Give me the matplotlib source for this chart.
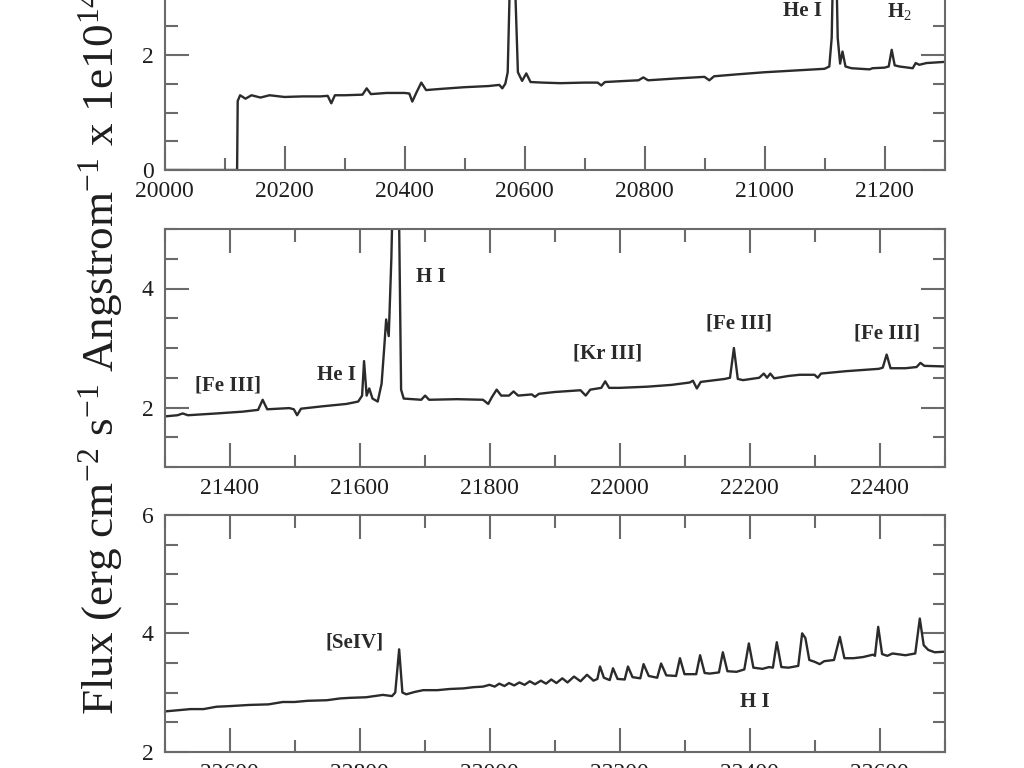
import matplotlib
matplotlib.use("Agg")
import matplotlib.pyplot as plt
from matplotlib.ticker import MultipleLocator

plt.rcParams['font.family'] = ['Liberation Serif', 'DejaVu Serif']
plt.rcParams['mathtext.fontset'] = 'custom'
plt.rcParams['mathtext.rm'] = 'Liberation Serif'
plt.rcParams['mathtext.it'] = 'Liberation Serif:italic'
plt.rcParams['mathtext.bf'] = 'Liberation Serif:bold'

# ---------------- data ----------------
top_wl = [20000, 20121, 20122, 20126, 20135, 20145, 20160, 20175, 20200, 20230,
          20260, 20272, 20278, 20284, 20300, 20330, 20337, 20344, 20370, 20400,
          20408, 20413, 20420, 20428, 20436, 20460, 20500, 20540, 20558, 20563,
          20568, 20572, 20575, 20580, 20585, 20589, 20596, 20603, 20610, 20630,
          20660, 20700, 20722, 20728, 20734, 20770, 20790, 20798, 20806, 20850,
          20900, 20908, 20916, 20950, 21000, 21050, 21100, 21108, 21112, 21117,
          21122, 21126, 21130, 21135, 21145, 21175, 21180, 21200, 21207, 21212,
          21217, 21225, 21247, 21252, 21258, 21270, 21300]
top_flux = [0.0, 0.0, 1.20, 1.30, 1.24, 1.30, 1.26, 1.30, 1.27, 1.28,
            1.28, 1.29, 1.16, 1.30, 1.30, 1.31, 1.42, 1.32, 1.34, 1.34,
            1.33, 1.19, 1.35, 1.52, 1.39, 1.41, 1.44, 1.46, 1.48, 1.42,
            1.50, 1.70, 3.00, 5.00, 3.00, 1.70, 1.55, 1.68, 1.53, 1.52,
            1.51, 1.52, 1.52, 1.47, 1.53, 1.55, 1.56, 1.61, 1.56, 1.59,
            1.62, 1.56, 1.63, 1.66, 1.70, 1.73, 1.76, 1.80, 2.30, 5.00,
            2.30, 1.85, 2.06, 1.80, 1.77, 1.75, 1.77, 1.78, 1.80, 2.09,
            1.82, 1.80, 1.77, 1.86, 1.83, 1.86, 1.88]

mid_wl = [21300, 21320, 21328, 21336, 21380, 21420, 21444, 21451, 21458, 21492,
          21499, 21504, 21510, 21543, 21580, 21598, 21604, 21607, 21611, 21615,
          21620, 21628, 21634, 21638, 21641, 21645, 21649, 21652, 21660, 21664,
          21668, 21695, 21701, 21707, 21750, 21790, 21798, 21804, 21811, 21818,
          21830, 21837, 21844, 21865, 21870, 21876, 21900, 21940, 21948, 21955,
          21972, 21978, 21984, 22000, 22043, 22080, 22108, 22113, 22119, 22125,
          22162, 22170, 22176, 22182, 22190, 22215, 22222, 22227, 22232, 22238,
          22260, 22277, 22300, 22305, 22310, 22348, 22399, 22405, 22411, 22417,
          22440, 22457, 22463, 22469, 22500]
mid_flux = [1.85, 1.87, 1.90, 1.87, 1.90, 1.93, 1.96, 2.13, 1.97, 1.99,
            1.97, 1.87, 1.98, 2.02, 2.06, 2.10, 2.20, 2.78, 2.20, 2.32,
            2.15, 2.10, 2.40, 3.00, 3.48, 3.20, 4.50, 6.00, 6.00, 2.30,
            2.15, 2.13, 2.20, 2.13, 2.14, 2.13, 2.06, 2.18, 2.30, 2.20,
            2.20, 2.27, 2.20, 2.22, 2.18, 2.23, 2.26, 2.29, 2.20, 2.30,
            2.33, 2.44, 2.33, 2.33, 2.35, 2.38, 2.42, 2.45, 2.32, 2.43,
            2.48, 2.50, 3.00, 2.48, 2.46, 2.50, 2.57, 2.50, 2.57, 2.49,
            2.53, 2.55, 2.55, 2.50, 2.57, 2.61, 2.65, 2.67, 2.89, 2.66,
            2.66, 2.68, 2.75, 2.70, 2.69]

bot_wl = [22500, 22520, 22540, 22560, 22580, 22600, 22630, 22660, 22682, 22700,
          22720, 22750, 22770, 22785, 22810, 22836, 22850, 22855, 22861, 22866,
          22872, 22885, 22898, 22920, 22939, 22960, 22975, 22990, 23000, 23008,
          23015, 23023, 23030, 23038, 23046, 23054, 23062, 23070, 23079, 23087,
          23095, 23103, 23112, 23120, 23130, 23140, 23150, 23160, 23166, 23170,
          23176, 23185, 23190, 23197, 23208, 23213, 23220, 23232, 23237, 23245,
          23258, 23264, 23272, 23287, 23293, 23300, 23318, 23324, 23331, 23339,
          23353, 23359, 23366, 23380, 23392, 23399, 23406, 23420, 23430, 23436,
          23442, 23449, 23460, 23475, 23481, 23486, 23492, 23500, 23508, 23515,
          23530, 23539, 23546, 23560, 23575, 23590, 23593, 23598, 23604, 23612,
          23620, 23640, 23655, 23662, 23668, 23675, 23685, 23700]
bot_flux = [2.68, 2.70, 2.72, 2.72, 2.76, 2.77, 2.79, 2.80, 2.84, 2.84,
            2.86, 2.87, 2.90, 2.91, 2.92, 2.96, 2.94, 3.00, 3.73, 3.00,
            2.97, 3.01, 3.04, 3.04, 3.06, 3.07, 3.09, 3.10, 3.13, 3.10,
            3.15, 3.11, 3.16, 3.12, 3.17, 3.13, 3.19, 3.14, 3.20, 3.15,
            3.22, 3.16, 3.24, 3.17, 3.27, 3.19, 3.30, 3.20, 3.23, 3.44,
            3.25, 3.21, 3.41, 3.23, 3.22, 3.44, 3.26, 3.24, 3.48, 3.28,
            3.25, 3.49, 3.29, 3.28, 3.58, 3.31, 3.31, 3.63, 3.33, 3.32,
            3.34, 3.68, 3.36, 3.35, 3.39, 3.83, 3.42, 3.40, 3.43, 3.42,
            3.85, 3.43, 3.42, 3.45, 4.00, 3.92, 3.55, 3.52, 3.48, 3.53,
            3.55, 3.94, 3.58, 3.58, 3.60, 3.64, 3.62, 4.11, 3.65, 3.62,
            3.66, 3.63, 3.66, 4.25, 3.80, 3.72, 3.68, 3.69]

top_labels = [("He I", 21063, 2.77), ("H$_2$", 21225, 2.75)]
mid_labels = [("[Fe III]", 21398, 2.37), ("He I", 21565, 2.55), ("H I", 21710, 4.20),
              ("[Kr III]", 21981, 2.90), ("[Fe III]", 22184, 3.41), ("[Fe III]", 22412, 3.24)]
bot_labels = [("[SeIV]", 22792, 3.84), ("H I", 23408, 2.84)]

panels = [
    (top_wl, top_flux, (20000, 21300), (0, 4), top_labels),
    (mid_wl, mid_flux, (21300, 22500), (1, 5), mid_labels),
    (bot_wl, bot_flux, (22500, 23700), (2, 6), bot_labels),
]

# ---------------- layout ----------------
W, H = 1024, 768
fig = plt.figure(figsize=(W / 100, H / 100), dpi=100)
rects_px = [(164.5, -60, 780, 230), (164.5, 229, 780, 238), (164.5, 515, 780, 236.7)]

spine_col = '#6a6a6a'
line_col = '#2b2b2b'

for (wl, fl, xl, yl, labels), (lx, ty, w, h) in zip(panels, rects_px):
    ax = fig.add_axes([lx / W, 1 - (ty + h) / H, w / W, h / H])
    ax.plot(wl, fl, color=line_col, lw=1.7, solid_joinstyle='round')
    ax.set_xlim(*xl)
    ax.set_ylim(*yl)
    ax.xaxis.set_major_locator(MultipleLocator(200))
    ax.xaxis.set_minor_locator(MultipleLocator(100))
    ax.yaxis.set_major_locator(MultipleLocator(2))
    ax.yaxis.set_minor_locator(MultipleLocator(0.5))
    ax.tick_params(which='both', direction='in', top=True, right=True,
                   color=spine_col, width=1.5, labelsize=17, labelcolor='#1e1e1e')
    ax.tick_params(which='major', length=17, pad=8)
    ax.tick_params(which='minor', length=9)
    for s in ax.spines.values():
        s.set_color(spine_col)
        s.set_linewidth(1.5)
    for txt, x, y in labels:
        ax.text(x, y, txt, ha='center', va='center', fontsize=15,
                fontweight='bold', color='#2a2a2a')

fig.text(101 / W, 1 - 715 / H,
         "Flux (erg cm$^{-2}$ s$^{-1}$ Angstrom$^{-1}$ x 1e10$^{14}$)",
         rotation=90, ha='center', va='bottom', fontsize=32.5, color='#1e1e1e')

fig.savefig("out.png", dpi=100)
